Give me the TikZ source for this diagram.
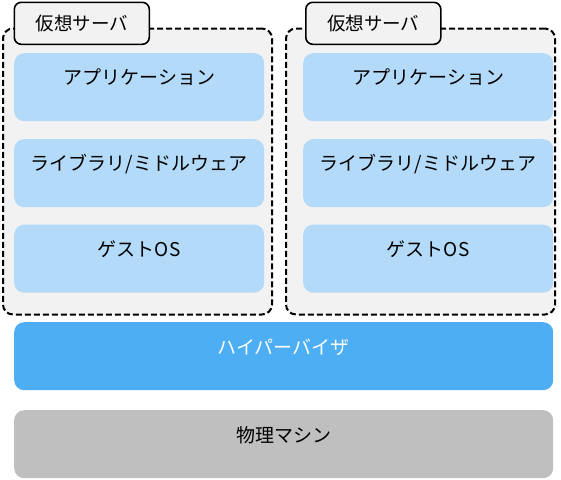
\documentclass[tikz,border=0pt]{standalone}
\usepackage{fontspec}
\setmainfont{Noto Sans CJK JP}
\definecolor{vmfill}{HTML}{F2F2F2}
\definecolor{layerblue}{HTML}{B3DAF8}
\definecolor{hypblue}{HTML}{4DAEF3}
\definecolor{physgray}{HTML}{BFBFBF}
\tikzset{
  vmbox/.style={draw=black, line width=2pt, dash pattern=on 6pt off 3pt, fill=vmfill, rounded corners=10pt, anchor=north west, inner sep=0pt, minimum width=269pt, minimum height=286pt},
  tab/.style={draw=black, line width=1.6pt, fill=vmfill, rounded corners=7pt, anchor=north west, inner sep=0pt, minimum width=135pt, minimum height=42pt, font=\fontsize{18.5pt}{20pt}\selectfont},
  layer/.style={fill=layerblue, rounded corners=10pt, anchor=north west, inner sep=0pt, minimum width=250pt, text height=31.5pt, text depth=36.5pt, font=\fontsize{19pt}{20pt}\selectfont},
  wide/.style={rounded corners=10pt, anchor=north west, inner sep=0pt, minimum width=539pt, text height=32.5pt, text depth=35.5pt, font=\fontsize{19pt}{20pt}\selectfont}
}
\begin{document}
\begin{tikzpicture}[x=1pt,y=-1pt]
\useasboundingbox (0,0) rectangle (561,479);
% virtual server containers
\node[vmbox] (vmL) at (2,27.5) {};
\node[vmbox] (vmR) at (285,27.5) {};
\node[tab] (tabL) at (13.5,1.5) {仮想サーバ};
\node[tab] (tabR) at (305,1.5) {仮想サーバ};
% left layers
\node[layer] (appL) at (14,53) {アプリケーション};
\node[layer] (libL) at (14,139) {ライブラリ/ミドルウェア};
\node[layer] (osL) at (14,224.5) {ゲストOS};
% right layers
\node[layer] (appR) at (303,53) {アプリケーション};
\node[layer] (libR) at (303,139) {ライブラリ/ミドルウェア};
\node[layer] (osR) at (303,224.5) {ゲストOS};
% hypervisor and machine
\node[wide, fill=hypblue, text=white] (hyp) at (14,322) {ハイパーバイザ};
\node[wide, fill=physgray] (phys) at (14,410) {物理マシン};
\end{tikzpicture}
\end{document}
